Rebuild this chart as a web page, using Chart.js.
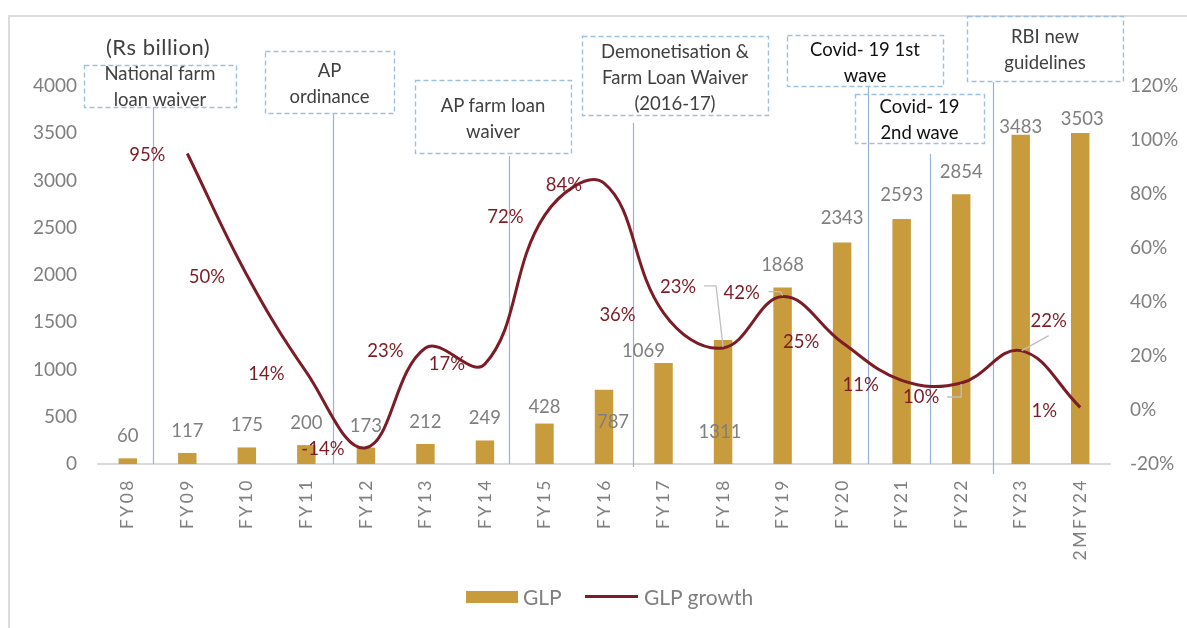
<!DOCTYPE html>
<html>
<head>
<meta charset="utf-8">
<script src="https://cdn.jsdelivr.net/npm/chart.js@4/dist/chart.umd.min.js"></script>
<style>
body { margin: 0; background: #fff; font-family: Lato, sans-serif; }
#wrap { position: relative; width: 1187px; height: 628px; overflow: hidden; }
#frame { position: absolute; left: 8px; top: 15px; width: 1300px; height: 700px;
  border-top: 2px solid #dcdcdc; border-left: 2px solid #dcdcdc; }
canvas { position: absolute; left: 0; top: 0; }
.note { position: absolute; text-align: center; font-size: 18.5px; line-height: 26px; white-space: nowrap; }
#unit { position: absolute; left: 106px; top: 33px; font-size: 22px; color: #404040; letter-spacing: 0.5px; }
.leg { position: absolute; font-size: 21px; color: #7f7f7f; line-height: 24px; }
</style>
</head>
<body>
<div id="wrap">
  <div id="frame"></div>
  <canvas id="glpChart" width="1187" height="628"></canvas>
  <div id="unit">(Rs billion)</div>
  <div style="position:absolute;left:466px;top:591px;width:52px;height:12px;background:#c89b3c"></div>
  <div class="leg" style="left:523px;top:585px">GLP</div>
  <div style="position:absolute;left:585px;top:595px;width:53px;height:3px;background:#7b1c26"></div>
  <div class="leg" style="left:644px;top:585px">GLP growth</div>
</div>
<script>
// data
const categories = ['FY08', 'FY09', 'FY10', 'FY11', 'FY12', 'FY13', 'FY14', 'FY15', 'FY16',
  'FY17', 'FY18', 'FY19', 'FY20', 'FY21', 'FY22', 'FY23', '2MFY24'];
const glp = [60, 117, 175, 200, 173, 212, 249, 428, 787, 1069, 1311, 1868, 2343, 2593, 2854, 3483, 3503];
const glpGrowth = [null, 95, 50, 14, -14, 23, 17, 72, 84, 36, 23, 42, 25, 11, 10, 22, 1];
const glpTicks = [0, 500, 1000, 1500, 2000, 2500, 3000, 3500, 4000];
const growthTicks = [-20, 0, 20, 40, 60, 80, 100, 120];
const eventNotes = [
  ['National farm', 'loan waiver'],
  ['AP', 'ordinance'],
  ['AP farm loan', 'waiver'],
  ['Demonetisation &', 'Farm Loan Waiver', '(2016-17)'],
  ['Covid- 19 1st', 'wave'],
  ['Covid- 19', '2nd wave'],
  ['RBI new', 'guidelines']
];

const GOLD = '#c89b3c';
const MAROON = '#7b1c26';
const GREY = '#7f7f7f';

// where each event box sits and where its marker line falls (fractional category index)
const noteLayout = [
  { x: 84, y: 65, w: 152, h: 42, ty: 73, at: 0.42, top: 107, bottom: 464, color: '#404040' },
  { x: 265, y: 51, w: 129, h: 62, ty: 70, at: 3.44, top: 113, bottom: 464, color: '#404040' },
  { x: 415, y: 80, w: 156, h: 73, ty: 105, at: 6.41, top: 156, bottom: 464, color: '#404040' },
  { x: 582, y: 36, w: 186, h: 79, ty: 51, at: 8.48, top: 123, bottom: 467, color: '#404040' },
  { x: 787, y: 35, w: 156, h: 51, ty: 49, at: 12.43, top: 86, bottom: 464, color: '#111' },
  { x: 855, y: 94, w: 129, h: 49, ty: 106, at: 13.48, top: 154, bottom: 464, color: '#111' },
  { x: 967, y: 16, w: 156, h: 65, ty: 36, at: 14.54, top: 82, bottom: 474, color: '#404040' }
];

// text of the event boxes as html
const wrap = document.getElementById('wrap');
eventNotes.forEach(function(lines, k) {
  const L = noteLayout[k];
  const d = document.createElement('div');
  d.className = 'note';
  d.style.left = L.x + 'px';
  d.style.width = L.w + 'px';
  d.style.top = (L.ty - 13) + 'px';
  d.style.color = L.color;
  d.innerHTML = lines.join('<br>');
  wrap.appendChild(d);
});

const eventPlugin = {
  id: 'events',
  beforeDatasetsDraw(chart) {
    const ctx = chart.ctx;
    const xs = chart.scales.x;
    const step = xs.getPixelForValue(1) - xs.getPixelForValue(0);
    ctx.save();
    noteLayout.forEach(function(L) {
      const base = Math.floor(L.at);
      const px = Math.round(xs.getPixelForValue(base) + (L.at - base) * step) + 0.5;
      ctx.strokeStyle = '#94b4d8';
      ctx.lineWidth = 1.2;
      ctx.setLineDash([]);
      ctx.beginPath();
      ctx.moveTo(px, L.top);
      ctx.lineTo(px, L.bottom);
      ctx.stroke();
      ctx.strokeStyle = '#9ec0e0';
      ctx.lineWidth = 1.4;
      ctx.setLineDash([5, 3]);
      ctx.strokeRect(L.x + 0.5, L.y + 0.5, L.w, L.h);
    });
    ctx.restore();
  }
};

// label placement tweaks, relative to the bar top / line point
const barLabelShift = { 7: [0, -17], 8: [9, 32], 9: [-20, -12], 10: [-3, 92],
  12: [0, -25], 13: [0, -24], 15: [0, -8], 16: [2, -14] };
const growthLabelShift = { 1: [-40, 2], 2: [-40, 2], 3: [-40, 2], 4: [-43, 1], 5: [-40, 3],
  6: [-38, 0], 7: [-39, 1], 8: [-40, 2], 9: [-46, 2], 10: [-45, -61], 11: [-41, -4],
  12: [-41, 0], 13: [-41, 5], 14: [-40, 14], 15: [28, -30], 16: [-36, 4] };
const leaders = {
  10: [[-19, -62], [-7, -62], [0, -1]],
  11: [[-14, -5], [-2, -5], [0, -1]],
  14: [[-14, 14], [0, 14], [0, 1]],
  15: [[1, 0], [28, -15]]
};

const labelPlugin = {
  id: 'labels',
  afterDatasetsDraw(chart) {
    const ctx = chart.ctx;
    ctx.save();
    ctx.font = '18.5px Lato';
    ctx.textAlign = 'center';
    ctx.textBaseline = 'middle';
    chart.getDatasetMeta(0).data.forEach(function(bar, i) {
      const s = barLabelShift[i] || [0, -22];
      ctx.fillStyle = GREY;
      ctx.fillText(glp[i], bar.x + s[0], bar.y + s[1]);
    });
    chart.getDatasetMeta(1).data.forEach(function(pt, i) {
      if (glpGrowth[i] === null) return;
      const s = growthLabelShift[i] || [-40, 2];
      if (leaders[i]) {
        ctx.strokeStyle = '#bfbfbf';
        ctx.lineWidth = 1.3;
        ctx.beginPath();
        leaders[i].forEach(function(p, k) {
          if (k === 0) ctx.moveTo(pt.x + p[0], pt.y + p[1]);
          else ctx.lineTo(pt.x + p[0], pt.y + p[1]);
        });
        ctx.stroke();
      }
      ctx.fillStyle = MAROON;
      ctx.fillText(glpGrowth[i] + '%', pt.x + s[0], pt.y + s[1]);
    });
    ctx.restore();
  }
};

const tickFont = { family: 'Lato', size: 19 };

new Chart(document.getElementById('glpChart'), {
  type: 'bar',
  data: {
    labels: categories,
    datasets: [{
      label: 'GLP',
      data: glp,
      backgroundColor: GOLD,
      barPercentage: 0.31,
      categoryPercentage: 1,
      yAxisID: 'y',
      order: 2
    }, {
      type: 'line',
      label: 'GLP growth',
      data: glpGrowth,
      borderColor: MAROON,
      borderWidth: 3,
      pointRadius: 0,
      tension: 0.4,
      fill: false,
      yAxisID: 'y1',
      order: 1
    }]
  },
  options: {
    responsive: false,
    devicePixelRatio: 1,
    animation: false,
    layout: { padding: { top: 86, left: 0, right: 0, bottom: 0 } },
    plugins: {
      legend: { display: false },
      tooltip: { enabled: false }
    },
    scales: {
      x: {
        grid: { display: false, drawTicks: false },
        border: { display: true, color: '#d9d9d9', width: 2 },
        ticks: {
          color: GREY,
          font: { family: 'Lato', size: 17.5 },
          minRotation: 90,
          maxRotation: 90,
          autoSkip: false,
          padding: 14
        },
        afterFit(s) { s.height = 164; },
        afterUpdate(s) {
          if (s._spaced) return;
          s._spaced = true;
          const orig = s.drawLabels;
          s.drawLabels = function(area) {
            this.ctx.save();
            this.ctx.letterSpacing = '2.5px';
            orig.call(this, area);
            this.ctx.restore();
          };
        }
      },
      y: {
        position: 'left',
        min: 0,
        max: 4000,
        afterBuildTicks(s) { s.ticks = glpTicks.map(v => ({ value: v })); },
        grid: { display: false, drawTicks: false },
        border: { display: false },
        ticks: { color: GREY, font: tickFont, padding: 21, callback: v => String(v) },
        afterFit(s) { s.width = 98; }
      },
      y1: {
        position: 'right',
        min: -20,
        max: 120,
        afterBuildTicks(s) { s.ticks = growthTicks.map(v => ({ value: v })); },
        grid: { display: false, drawTicks: false },
        border: { display: false },
        ticks: { color: GREY, font: tickFont, padding: 20, callback: v => v + '%' },
        afterFit(s) { s.width = 77; }
      }
    }
  },
  plugins: [eventPlugin, labelPlugin]
});
</script>
</body>
</html>
